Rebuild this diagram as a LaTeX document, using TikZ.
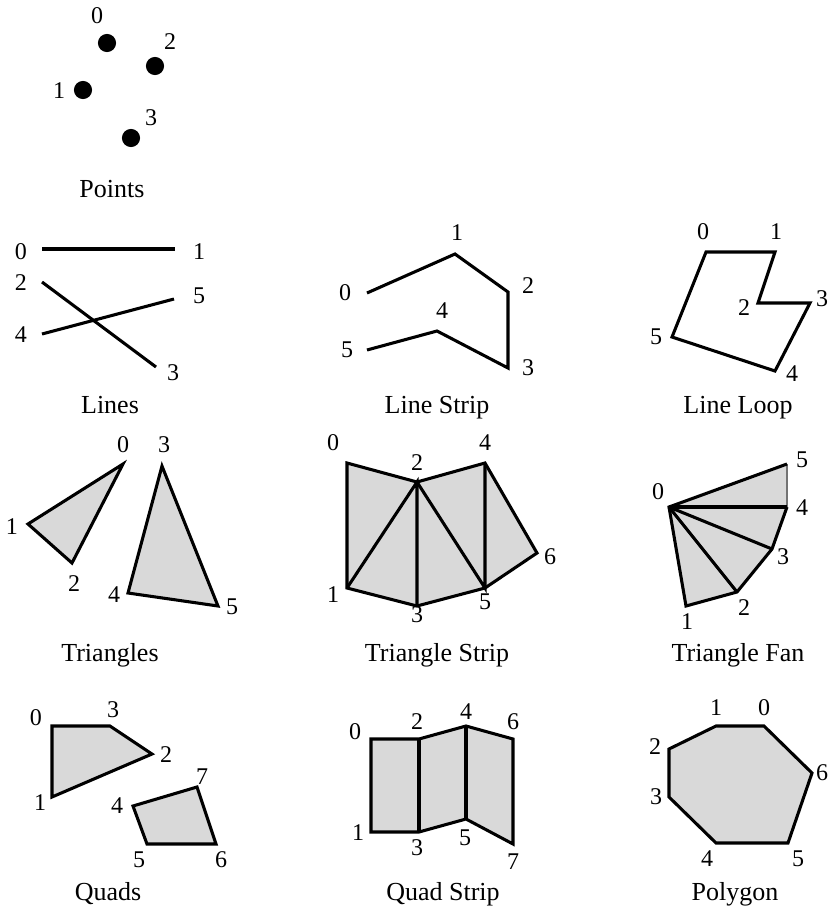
\documentclass[tikz,border=0pt]{standalone}
\usepackage{fontspec}
\setmainfont{Liberation Serif}
\begin{document}
\begin{tikzpicture}[x=0.75pt, y=-0.75pt,
    edge/.style={line width=2.3pt},
    face/.style={fill=black!15},
    num/.style={inner sep=0pt, font=\fontsize{18}{20}\selectfont},
    caption/.style={anchor=base, inner sep=0pt, font=\fontsize{19.5}{22}\selectfont}]
        \useasboundingbox (0,0) rectangle (831,908);

        % Points
        \coordinate (p0) at (107, 43);
        \coordinate (p1) at (83, 90);
        \coordinate (p2) at (155, 66);
        \coordinate (p3) at (131, 138);
        \fill (p0) circle (6.8pt);
        \fill (p1) circle (6.8pt);
        \fill (p2) circle (6.8pt);
        \fill (p3) circle (6.8pt);
        \node[num] (p0l) at (97, 16) {0};
        \node[num] (p1l) at (59, 91) {1};
        \node[num] (p2l) at (170, 42) {2};
        \node[num] (p3l) at (151, 118) {3};
        \node[caption] (pcap) at (112, 197) {Points};

        % Lines
        \coordinate (l0) at (42, 249);
        \coordinate (l1) at (175, 249);
        \coordinate (l2) at (42, 282);
        \coordinate (l3) at (156, 367);
        \coordinate (l4) at (42, 334);
        \coordinate (l5) at (174, 299);
        \draw[edge] (l0) -- (l1);
        \draw[edge] (l2) -- (l3);
        \draw[edge] (l4) -- (l5);
        \node[num] (l0l) at (21, 252) {0};
        \node[num] (l1l) at (199, 252) {1};
        \node[num] (l2l) at (21, 283) {2};
        \node[num] (l3l) at (173, 373) {3};
        \node[num] (l4l) at (21, 335) {4};
        \node[num] (l5l) at (199, 296) {5};
        \node[caption] (lcap) at (110, 413) {Lines};

        % Line strip
        \coordinate (s0) at (367, 293);
        \coordinate (s1) at (455, 254);
        \coordinate (s2) at (508, 292);
        \coordinate (s3) at (508, 368);
        \coordinate (s4) at (437, 331);
        \coordinate (s5) at (367, 350);
        \draw[edge] (s0) -- (s1) -- (s2) -- (s3) -- (s4) -- (s5);
        \node[num] (s0l) at (345, 293) {0};
        \node[num] (s1l) at (457, 233) {1};
        \node[num] (s2l) at (528, 286) {2};
        \node[num] (s3l) at (528, 368) {3};
        \node[num] (s4l) at (442, 311) {4};
        \node[num] (s5l) at (347, 350) {5};
        \node[caption] (scap) at (437, 413) {Line Strip};

        % Line loop
        \coordinate (o0) at (706, 252);
        \coordinate (o1) at (775, 252);
        \coordinate (o2) at (758, 303);
        \coordinate (o3) at (810, 303);
        \coordinate (o4) at (775, 371);
        \coordinate (o5) at (672, 337);
        \draw[edge] (o0) -- (o1) -- (o2) -- (o3) -- (o4) -- (o5) -- cycle;
        \node[num] (o0l) at (703, 232) {0};
        \node[num] (o1l) at (776, 232) {1};
        \node[num] (o2l) at (744, 308) {2};
        \node[num] (o3l) at (822, 299) {3};
        \node[num] (o4l) at (792, 374) {4};
        \node[num] (o5l) at (656, 337) {5};
        \node[caption] (ocap) at (738, 413) {Line Loop};

        % Triangles
        \coordinate (t0) at (123, 464);
        \coordinate (t1) at (28, 524);
        \coordinate (t2) at (72, 563);
        \coordinate (t3) at (162, 466);
        \coordinate (t4) at (128, 593);
        \coordinate (t5) at (218, 606);
        \filldraw[face, edge] (t0) -- (t1) -- (t2) -- cycle;
        \filldraw[face, edge] (t3) -- (t4) -- (t5) -- cycle;
        \node[num] (t0l) at (123, 445) {0};
        \node[num] (t1l) at (12, 527) {1};
        \node[num] (t2l) at (74, 584) {2};
        \node[num] (t3l) at (164, 445) {3};
        \node[num] (t4l) at (114, 595) {4};
        \node[num] (t5l) at (232, 607) {5};
        \node[caption] (tcap) at (110, 661) {Triangles};

        % Triangle strip
        \coordinate (r0) at (347, 463);
        \coordinate (r1) at (347, 588);
        \coordinate (r2) at (417, 482);
        \coordinate (r3) at (417, 606);
        \coordinate (r4) at (485, 463);
        \coordinate (r5) at (485, 588);
        \coordinate (r6) at (537, 553);
        \fill[face] (r0) -- (r2) -- (r4) -- (r6) -- (r5) -- (r3) -- (r1) -- cycle;
        \draw[edge] (r0) -- (r2) -- (r4) -- (r6) -- (r5) -- (r3) -- (r1) -- cycle;
        \draw[edge] (r1) -- (r2) -- (r3);
        \draw[edge] (r2) -- (r5) -- (r4);
        \node[num] (r0l) at (333, 443) {0};
        \node[num] (r1l) at (333, 595) {1};
        \node[num] (r2l) at (417, 463) {2};
        \node[num] (r3l) at (417, 615) {3};
        \node[num] (r4l) at (485, 443) {4};
        \node[num] (r5l) at (485, 602) {5};
        \node[num] (r6l) at (550, 557) {6};
        \node[caption] (rcap) at (437, 661) {Triangle Strip};

        % Triangle fan
        \coordinate (f0) at (669, 507);
        \coordinate (f1) at (686, 606);
        \coordinate (f2) at (737, 592);
        \coordinate (f3) at (772, 549);
        \coordinate (f4) at (787, 507);
        \coordinate (f5) at (787, 464);
        \fill[face] (f0) -- (f1) -- (f2) -- (f3) -- (f4) -- (f5) -- cycle;
        \draw[line width=1.4pt, black!55] (f4) -- (f5);
        \draw[edge] (f5) -- (f0) -- (f1) -- (f2) -- (f3) -- (f4);
        \draw[edge] (f0) -- (f2);
        \draw[edge] (f0) -- (f3);
        \draw[edge] (f0) -- (f4);
        \node[num] (f0l) at (658, 492) {0};
        \node[num] (f1l) at (687, 622) {1};
        \node[num] (f2l) at (744, 608) {2};
        \node[num] (f3l) at (783, 557) {3};
        \node[num] (f4l) at (802, 508) {4};
        \node[num] (f5l) at (802, 460) {5};
        \node[caption] (fcap) at (738, 661) {Triangle Fan};

        % Quads
        \coordinate (q0) at (52, 726);
        \coordinate (q1) at (52, 797);
        \coordinate (q2) at (152, 754);
        \coordinate (q3) at (110, 726);
        \coordinate (q4) at (133, 806);
        \coordinate (q5) at (147, 844);
        \coordinate (q6) at (216, 844);
        \coordinate (q7) at (197, 787);
        \filldraw[face, edge] (q0) -- (q1) -- (q2) -- (q3) -- cycle;
        \filldraw[face, edge] (q4) -- (q5) -- (q6) -- (q7) -- cycle;
        \node[num] (q0l) at (36, 718) {0};
        \node[num] (q1l) at (40, 803) {1};
        \node[num] (q2l) at (166, 755) {2};
        \node[num] (q3l) at (113, 710) {3};
        \node[num] (q4l) at (117, 806) {4};
        \node[num] (q5l) at (139, 860) {5};
        \node[num] (q6l) at (221, 860) {6};
        \node[num] (q7l) at (202, 777) {7};
        \node[caption] (qcap) at (108, 900) {Quads};

        % Quad strip
        \coordinate (u0) at (371, 739);
        \coordinate (u1) at (371, 832);
        \coordinate (u2) at (419, 739);
        \coordinate (u3) at (419, 832);
        \coordinate (u4) at (466, 726);
        \coordinate (u5) at (466, 819);
        \coordinate (u6) at (513, 739);
        \coordinate (u7) at (513, 844);
        \fill[face] (u0) -- (u2) -- (u4) -- (u6) -- (u7) -- (u5) -- (u3) -- (u1) -- cycle;
        \draw[edge] (u0) -- (u2) -- (u4) -- (u6) -- (u7) -- (u5) -- (u3) -- (u1) -- cycle;
        \draw[edge] (u2) -- (u3);
        \draw[edge] (u4) -- (u5);
        \node[num] (u0l) at (355, 732) {0};
        \node[num] (u1l) at (358, 833) {1};
        \node[num] (u2l) at (417, 722) {2};
        \node[num] (u3l) at (417, 848) {3};
        \node[num] (u4l) at (466, 712) {4};
        \node[num] (u5l) at (465, 838) {5};
        \node[num] (u6l) at (513, 722) {6};
        \node[num] (u7l) at (513, 862) {7};
        \node[caption] (ucap) at (443, 900) {Quad Strip};

        % Polygon
        \coordinate (g0) at (764, 726);
        \coordinate (g1) at (716, 726);
        \coordinate (g2) at (669, 749);
        \coordinate (g3) at (669, 797);
        \coordinate (g4) at (716, 843);
        \coordinate (g5) at (788, 843);
        \coordinate (g6) at (812, 773);
        \filldraw[face, edge] (g0) -- (g1) -- (g2) -- (g3) -- (g4) -- (g5) -- (g6) -- cycle;
        \node[num] (g0l) at (764, 708) {0};
        \node[num] (g1l) at (716, 708) {1};
        \node[num] (g2l) at (655, 747) {2};
        \node[num] (g3l) at (656, 797) {3};
        \node[num] (g4l) at (707, 859) {4};
        \node[num] (g5l) at (798, 859) {5};
        \node[num] (g6l) at (822, 773) {6};
        \node[caption] (gcap) at (735, 900) {Polygon};
    \end{tikzpicture}
\end{document}
